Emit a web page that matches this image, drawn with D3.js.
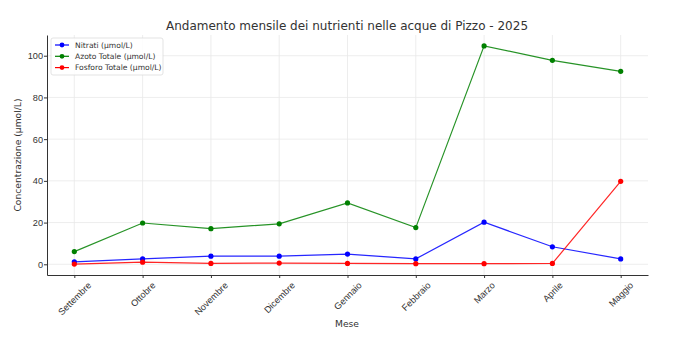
<!DOCTYPE html>
<html>
<head>
<meta charset="utf-8">
<script src="https://cdn.jsdelivr.net/npm/d3@7"></script>
<style>
  html, body { margin: 0; padding: 0; background: #fff; }
  svg { display: block; font-family: "DejaVu Sans", sans-serif; }
</style>
</head>
<body>
<svg id="chart" width="689" height="338"></svg>
<script>
// Months of the monitoring campaign
const mesi = ["Settembre", "Ottobre", "Novembre", "Dicembre", "Gennaio", "Febbraio", "Marzo", "Aprile", "Maggio"];

// Concentrations in µmol/L
const nitrati = [1.2, 2.6, 3.9, 3.9, 4.9, 2.6, 20.2, 8.4, 2.6];
const azotoTotale = [6.1, 19.8, 17.1, 19.4, 29.4, 17.6, 104.7, 97.8, 92.5];
const fosforoTotale = [0.1, 1.0, 0.4, 0.6, 0.4, 0.3, 0.3, 0.4, 39.8];

const yTicks = [0, 20, 40, 60, 80, 100];

const seriesNames = ["Nitrati (µmol/L)", "Azoto Totale (µmol/L)", "Fosforo Totale (µmol/L)"];
const seriesColors = ["#0000ff", "#008000", "#ff0000"];
const seriesValues = [nitrati, azotoTotale, fosforoTotale];

const svg = d3.select("#chart");
const plot = { left: 47, right: 648, top: 35, bottom: 275 };

// x: category positions with 5% padding on each side
const n = mesi.length;
const xPad = (n - 1) * 0.05;
const x = d3.scaleLinear().domain([-xPad, n - 1 + xPad]).range([plot.left, plot.right]);

const allVals = seriesValues.flat();
const yMin = d3.min(allVals), yMax = d3.max(allVals);
const yPad = (yMax - yMin) * 0.05;
const y = d3.scaleLinear().domain([yMin - yPad, yMax + yPad]).range([plot.bottom, plot.top]);

// grid
const grid = svg.append("g").attr("stroke", "#e8e8e8").attr("stroke-width", 0.8);
mesi.forEach((m, i) => {
  grid.append("line").attr("x1", x(i)).attr("x2", x(i)).attr("y1", plot.top).attr("y2", plot.bottom);
});
yTicks.forEach(t => {
  grid.append("line").attr("x1", plot.left).attr("x2", plot.right).attr("y1", y(t)).attr("y2", y(t));
});

// axes
const tickFont = 9.2;
const xAxis = d3.axisBottom(x).tickValues(d3.range(n)).tickFormat(i => mesi[i]).tickSize(3).tickSizeOuter(0);
const gx = svg.append("g").attr("transform", `translate(0,${plot.bottom})`).call(xAxis);
gx.select(".domain").attr("stroke", "#333").attr("stroke-width", 1);
gx.selectAll(".tick line").attr("stroke", "#333");
// rotated labels centred under each tick, top of rotated box just below the tick
gx.selectAll(".tick text")
  .attr("fill", "#333")
  .attr("font-size", tickFont)
  .attr("text-anchor", "middle")
  .attr("dominant-baseline", "central")
  .attr("dy", null)
  .attr("y", 0)
  .attr("transform", function() {
    const w = this.getComputedTextLength();
    const side = (w + tickFont) * Math.SQRT1_2;
    return `translate(0,${5.5 + side / 2}) rotate(-45)`;
  });

const yAxis = d3.axisLeft(y).tickValues(yTicks).tickSize(3).tickSizeOuter(0);
const gy = svg.append("g").attr("transform", `translate(${plot.left},0)`).call(yAxis);
gy.select(".domain").attr("stroke", "#333").attr("stroke-width", 1);
gy.selectAll(".tick line").attr("stroke", "#333");
gy.selectAll(".tick text").attr("fill", "#333").attr("font-size", tickFont).attr("x", -4);

// lines and markers
const line = d3.line().x((d, i) => x(i)).y(d => y(d));
seriesValues.forEach((vals, s) => {
  svg.append("path")
    .datum(vals)
    .attr("fill", "none")
    .attr("stroke", seriesColors[s])
    .attr("stroke-width", 1.2)
    .attr("opacity", 0.85)
    .attr("d", line);
  svg.append("g").selectAll("circle").data(vals).join("circle")
    .attr("cx", (d, i) => x(i))
    .attr("cy", d => y(d))
    .attr("r", 2.6)
    .attr("fill", seriesColors[s]);
});

// titles
svg.append("text").attr("x", 347).attr("y", 30).attr("text-anchor", "middle")
  .attr("font-size", 12).attr("fill", "#333")
  .text("Andamento mensile dei nutrienti nelle acque di Pizzo - 2025");
svg.append("text").attr("x", 347).attr("y", 327).attr("text-anchor", "middle")
  .attr("font-size", 9.2).attr("fill", "#333").text("Mese");
svg.append("text").attr("transform", `translate(21,${(plot.top + plot.bottom) / 2}) rotate(-90)`)
  .attr("text-anchor", "middle").attr("font-size", 9.2).attr("fill", "#333")
  .text("Concentrazione (µmol/L)");

// legend
const lg = svg.append("g").attr("transform", "translate(51,38)");
lg.append("rect").attr("width", 112).attr("height", 37).attr("rx", 2)
  .attr("fill", "#fff").attr("fill-opacity", 0.85).attr("stroke", "#dcdcdc").attr("stroke-width", 0.8);
seriesNames.forEach((name, s) => {
  const yy = 7 + s * 11.3;
  lg.append("line").attr("x1", 4).attr("x2", 18).attr("y1", yy).attr("y2", yy)
    .attr("stroke", seriesColors[s]).attr("stroke-width", 1.2);
  lg.append("circle").attr("cx", 11).attr("cy", yy).attr("r", 2.4).attr("fill", seriesColors[s]);
  lg.append("text").attr("x", 24).attr("y", yy + 2.8).attr("font-size", 7.6).attr("fill", "#333").text(name);
});
</script>
</body>
</html>
